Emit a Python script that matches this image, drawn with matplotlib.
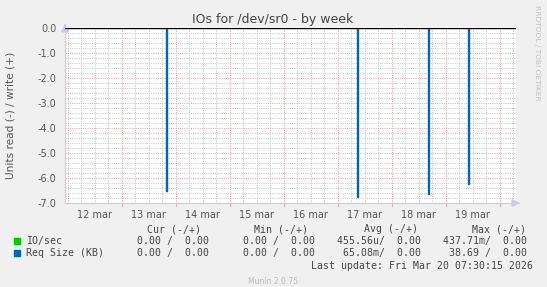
import numpy as np
import matplotlib
matplotlib.use("Agg")
import matplotlib.pyplot as plt

# time axis in days since 12 mar 00:00
x_start = -0.05
x_end = 8.30
day_labels = ["12 mar", "13 mar", "14 mar", "15 mar", "16 mar", "17 mar", "18 mar", "19 mar"]

# Req Size (KB) read spikes (negative side), day offset and depth
spike_days = [1.82, 5.36, 6.67, 7.41]
spike_depth = [6.51, 6.75, 6.65, 6.25]
spike_len = 0.012

y_ticks = [0.0, -1.0, -2.0, -3.0, -4.0, -5.0, -6.0, -7.0]

legend_names = ["IO/sec", "Req Size (KB)"]
legend_colors = ["#00cc00", "#0066b3"]
cur_vals = ["0.00 /  0.00", "0.00 /  0.00"]
min_vals = ["0.00 /  0.00", "0.00 /  0.00"]
avg_vals = ["455.56u/  0.00", "65.08m/  0.00"]
max_vals = ["437.71m/  0.00", "38.69 /  0.00"]

W, H = 547, 287
fig = plt.figure(figsize=(W / 100, H / 100), dpi=100, facecolor="#f0f0f0")

def fx(px):
    return px / W

def fy(py):
    return 1 - py / H

L, R, T, B = 65, 516, 28, 203
ax = fig.add_axes([fx(L), fy(B), fx(R) - fx(L), fy(T) - fy(B)])
ax.set_facecolor("white")
ax.set_xlim(x_start, x_end)
ax.set_ylim(-7, 0)

# build the read series from the spikes
xs = [x_start]
ys = [0.0]
for d, v in zip(spike_days, spike_depth):
    xs += [d, d, d + spike_len, d + spike_len]
    ys += [0.0, -v, -v, 0.0]
xs.append(x_end)
ys.append(0.0)

# grid, 1px dotted
dot = (0, (1, 1.2))
minor_x = np.arange(0, 8.5, 0.25)
for m in minor_x:
    if x_start < m < x_end and abs(m - round(m)) > 0.01:
        ax.axvline(m, color="#c8c8c8", lw=0.72, ls=dot, zorder=1)
for m in np.arange(-7, 0.01, 0.2):
    if abs(m - round(m)) > 0.01:
        ax.axhline(m, color="#c8c8c8", lw=0.72, ls=dot, zorder=1)
for d in range(0, 9):
    if x_start < d < x_end:
        ax.axvline(d, color="#eaa8a8", lw=0.72, ls=dot, zorder=2)
for t in y_ticks:
    ax.axhline(t, color="#eaa8a8", lw=0.72, ls=dot, zorder=2)

ax.plot([x_start, x_end], [0, 0], color=legend_colors[0], lw=0.8, zorder=3)
ax.plot(xs, ys, color=legend_colors[1], lw=1.0, zorder=4)
ax.axhline(0, color="black", lw=0.8, zorder=5)

for s in ["top", "right"]:
    ax.spines[s].set_visible(False)
for s in ["left", "bottom"]:
    ax.spines[s].set_color("#c8c8f0")
    ax.spines[s].set_linewidth(0.8)

ax.set_yticks(y_ticks)
ax.set_yticklabels(["%.1f" % t for t in y_ticks])
ax.set_xticks([i + 0.5 for i in range(len(day_labels))])
ax.set_xticklabels(day_labels)
ax.tick_params(length=0, labelsize=7, colors="#555555", pad=5)
ax.tick_params(axis="y", pad=6)
for d in range(1, 9):
    ax.plot([d, d], [-7.0, -7.1], color="#e8a8a8", lw=0.8, clip_on=False)

# axis arrows
ax.annotate("", xy=(fx(R + 7), fy(B)), xytext=(fx(R), fy(B)), xycoords="figure fraction",
            arrowprops=dict(arrowstyle="-|>,head_width=0.25,head_length=0.5", color="#c8c8f0", lw=0.8))
ax.annotate("", xy=(fx(L), fy(T - 7)), xytext=(fx(L), fy(T)), xycoords="figure fraction",
            arrowprops=dict(arrowstyle="-|>,head_width=0.25,head_length=0.5", color="#c8c8f0", lw=0.8))

fig.text(fx(273), fy(19), "IOs for /dev/sr0 - by week", ha="center", va="center",
         fontsize=9, color="#444444")
fig.text(fx(11), fy(115), "Units read (-) / write (+)", rotation=90, ha="center", va="center",
         fontsize=7.6, color="#555555")
fig.text(fx(537), fy(5), "RRDTOOL / TOBI OETIKER", rotation=270, ha="center", va="top",
         fontsize=5.4, color="#c0c0c0")

mono = dict(family="DejaVu Sans Mono", fontsize=7.1, color="#444444", va="center")
fig.text(fx(201), fy(229), "Cur (-/+)", ha="right", **mono)
fig.text(fx(308), fy(229), "Min (-/+)", ha="right", **mono)
fig.text(fx(418), fy(229), "Avg (-/+)", ha="right", **mono)
fig.text(fx(526), fy(229), "Max (-/+)", ha="right", **mono)
for i in range(len(legend_names)):
    yy = 241 + 12 * i
    fig.patches.append(plt.Rectangle((fx(14), fy(yy + 3)), fx(6), 6 / H, color=legend_colors[i],
                                     transform=fig.transFigure, figure=fig))
    fig.text(fx(26), fy(yy), legend_names[i], ha="left", **mono)
    fig.text(fx(209), fy(yy), cur_vals[i], ha="right", **mono)
    fig.text(fx(315), fy(yy), min_vals[i], ha="right", **mono)
    fig.text(fx(421), fy(yy), avg_vals[i], ha="right", **mono)
    fig.text(fx(527), fy(yy), max_vals[i], ha="right", **mono)
fig.text(fx(533), fy(266), "Last update: Fri Mar 20 07:30:15 2026", ha="right", **mono)
fig.text(fx(273), fy(281), "Munin 2.0.75", ha="center", va="center", fontsize=5.5, color="#bbbbbb")

fig.savefig("out.png", dpi=100, facecolor=fig.get_facecolor())
